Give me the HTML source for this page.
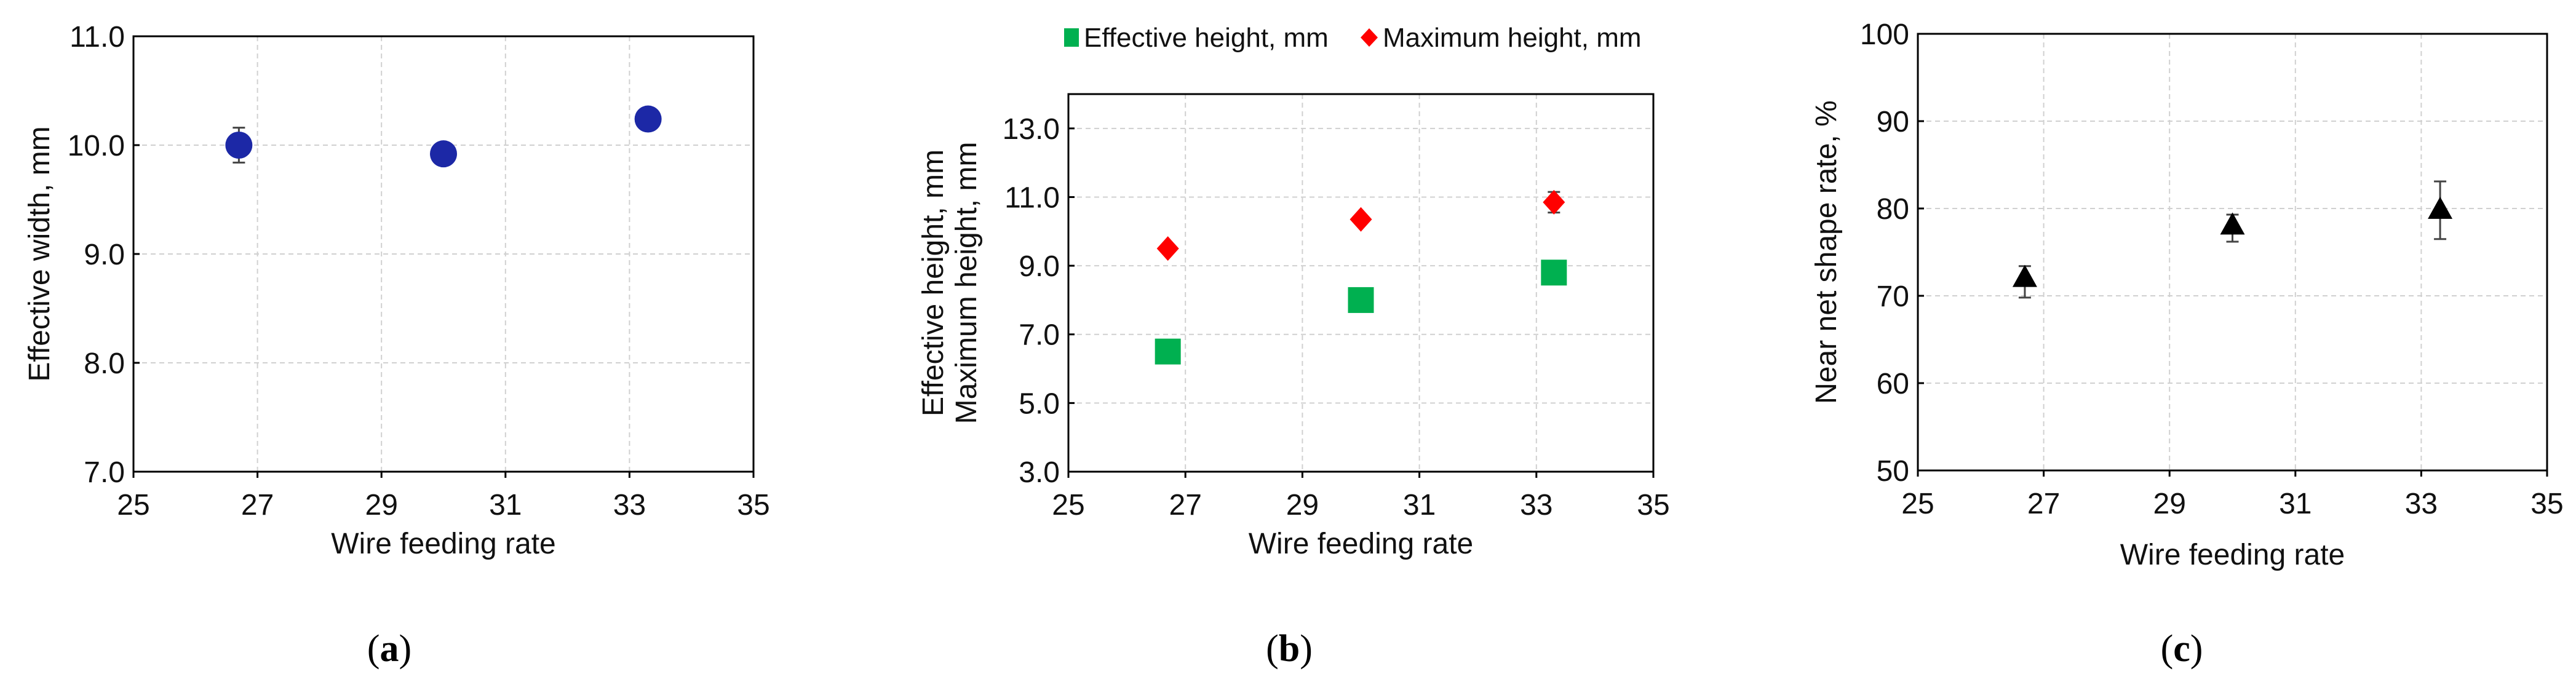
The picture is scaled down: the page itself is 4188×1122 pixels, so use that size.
<!DOCTYPE html>
<html><head><meta charset="utf-8"><style>
html,body{margin:0;padding:0;background:#fff;}
svg{display:block;font-family:"Liberation Sans",Arial,sans-serif;}
</style></head><body>
<svg id="fig" width="4188" height="1122" viewBox="0 0 4188 1122" xmlns="http://www.w3.org/2000/svg"></svg>
<script>
const xTicks = [25, 27, 29, 31, 33, 35];
const feedRates = [26.7, 30, 33.3];
const widthVals = [10.0, 9.92, 10.24];
const widthErr = [0.16, 0.02, 0.03];
const widthTicks = [7, 8, 9, 10, 11];
const effHeight = [6.5, 8.0, 8.8];
const effHeightErr = [0.05, 0.05, 0.3];
const maxHeight = [9.5, 10.35, 10.85];
const maxHeightErr = [0.05, 0.05, 0.3];
const heightTicks = [3, 5, 7, 9, 11, 13];
const nearNet = [72.0, 78.0, 79.8];
const nearNetLo = [69.8, 76.2, 76.5];
const nearNetHi = [73.4, 79.3, 83.1];
const nnTicks = [50, 60, 70, 80, 90, 100];

const NS = "http://www.w3.org/2000/svg";
const svg = document.getElementById('fig');
function mk(tag, attrs, parent, text){
  const e = document.createElementNS(NS, tag);
  for (const k in attrs) e.setAttribute(k, attrs[k]);
  if (text !== undefined) e.textContent = text;
  (parent || svg).appendChild(e);
  return e;
}

function panel(cfg){
  const g = mk('g', {});
  
  
  const sx = v => cfg.L + (v - 25) / 10 * (cfg.R - cfg.L);
  const sy = v => cfg.B - (v - cfg.ymin) / (cfg.ymax - cfg.ymin) * (cfg.B - cfg.T);
  // grid
  xTicks.forEach(t => {
    if (t > 25 && t < 35) {
      const l = mk('line', {x1:sx(t), x2:sx(t), y1:cfg.T, y2:cfg.B, stroke:'#d0d0d0', 'stroke-width':2, 'stroke-dasharray':'8,6'}, g);
      
      
    }
  });
  cfg.yTicks.forEach(t => {
    if (t > cfg.ymin && t < cfg.ymax) {
      const l = mk('line', {x1:cfg.L, x2:cfg.R, y1:sy(t), y2:sy(t), stroke:'#d0d0d0', 'stroke-width':2, 'stroke-dasharray':'8,6'}, g);
      
      
    }
  });
  // frame
  const fr = mk('rect', {x:cfg.L, y:cfg.T, width:cfg.R-cfg.L, height:cfg.B-cfg.T, fill:'none', stroke:'#000', 'stroke-width':3}, g);
  
  
  // ticks + labels
  xTicks.forEach(t => {
    mk('line', {x1:sx(t), x2:sx(t), y1:cfg.B, y2:cfg.B+10, stroke:'#000', 'stroke-width':3}, g);
    const tx = mk('text', {x:sx(t), y:cfg.B+70, 'font-size':48, 'text-anchor':'middle', fill:'#111'}, g, String(t));
    
    
  });
  cfg.yTicks.forEach(t => {
    mk('line', {x1:cfg.L, x2:cfg.L+10, y1:sy(t), y2:sy(t), stroke:'#000', 'stroke-width':3}, g);
    const tx = mk('text', {x:cfg.L-14, y:sy(t)+17, 'font-size':48, 'text-anchor':'end', fill:'#111'}, g, cfg.fmt(t));
    
    
  });
  const xt = mk('text', {x:(cfg.L+cfg.R)/2, y:cfg.xtY, 'font-size':48, 'text-anchor':'middle', fill:'#111'}, g, 'Wire feeding rate');
  
  
  cfg.ylab.forEach((s, i) => {
    const yt = mk('text', {x:0, y:0, 'font-size':48, 'text-anchor':'middle', fill:'#111',
      transform:`translate(${cfg.ylabX[i]},${cfg.ylabY}) rotate(-90)`}, g, s);
    
    
  });
  const lt = mk('text', {x:cfg.letterX, y:1075, 'font-size':62, 'text-anchor':'middle', fill:'#000', 'font-family':'Liberation Serif, serif'}, g);
  mk('tspan', {}, lt, '(');
  mk('tspan', {'font-weight':'bold'}, lt, cfg.letter);
  mk('tspan', {}, lt, ')');
  
  
  return {g, sx, sy};
}

function errBar(g, x, y1, y2, w){
  const e = mk('g', {stroke:'#444', 'stroke-width':3}, g);
  
  
  mk('line', {x1:x, x2:x, y1:y1, y2:y2}, e);
  mk('line', {x1:x-w, x2:x+w, y1:y1, y2:y1}, e);
  mk('line', {x1:x-w, x2:x+w, y1:y2, y2:y2}, e);
}

// Panel a
const pa = panel({name:'panel-a', L:217, R:1225, T:59, B:767, ymin:7, ymax:11, yTicks:widthTicks,
  fmt:t=>t.toFixed(1), xtY:900, ylab:['Effective width, mm'], ylabX:[80], ylabY:413, letter:'a', letterX:633});
feedRates.forEach((x, i) => {
  errBar(pa.g, pa.sx(x), pa.sy(widthVals[i]+widthErr[i]), pa.sy(widthVals[i]-widthErr[i]), 10);
  const c = mk('circle', {cx:pa.sx(x), cy:pa.sy(widthVals[i]), r:22, fill:'#1c28a6'}, pa.g);
  
  
});

// Panel b
const pb = panel({name:'panel-b', L:1737, R:2688, T:153, B:767, ymin:3, ymax:14, yTicks:heightTicks,
  fmt:t=>t.toFixed(1), xtY:900, ylab:['Effective height, mm','Maximum height, mm'], ylabX:[1533,1587], ylabY:460, letter:'b', letterX:2096});
feedRates.forEach((x, i) => {
  errBar(pb.g, pb.sx(x), pb.sy(effHeight[i]+effHeightErr[i]), pb.sy(effHeight[i]-effHeightErr[i]), 10);
  const s = mk('rect', {x:pb.sx(x)-21, y:pb.sy(effHeight[i])-21, width:42, height:42, fill:'#00b050'}, pb.g);
  
  
  errBar(pb.g, pb.sx(x), pb.sy(maxHeight[i]+maxHeightErr[i]), pb.sy(maxHeight[i]-maxHeightErr[i]), 10);
  const cx = pb.sx(x), cy = pb.sy(maxHeight[i]);
  const d = mk('polygon', {points:`${cx},${cy-20} ${cx+18},${cy} ${cx},${cy+20} ${cx-18},${cy}`, fill:'#ff0000'}, pb.g);
  
  
});
const leg = mk('g', {});


const le1 = mk('g', {}, leg);


mk('rect', {x:1730, y:46, width:24, height:30, fill:'#00b050'}, le1);
mk('text', {x:1762, y:76, 'font-size':44, fill:'#111'}, le1, 'Effective height, mm');
const le2 = mk('g', {}, leg);


mk('polygon', {points:'2226,46 2240,61 2226,76 2212,61', fill:'#ff0000'}, le2);
mk('text', {x:2248, y:76, 'font-size':44, fill:'#111'}, le2, 'Maximum height, mm');

// Panel c
const pc = panel({name:'panel-c', L:3118, R:4141, T:55, B:765, ymin:50, ymax:100, yTicks:nnTicks,
  fmt:t=>String(t), xtY:918, ylab:['Near net shape rate, %'], ylabX:[2985], ylabY:410, letter:'c', letterX:3547});
feedRates.forEach((x, i) => {
  errBar(pc.g, pc.sx(x), pc.sy(nearNetHi[i]), pc.sy(nearNetLo[i]), 10);
  const cx = pc.sx(x), cy = pc.sy(nearNet[i]);
  const t = mk('polygon', {points:`${cx},${cy-22} ${cx+20},${cy+14} ${cx-20},${cy+14}`, fill:'#000'}, pc.g);
  
  
});
</script>
</body></html>
